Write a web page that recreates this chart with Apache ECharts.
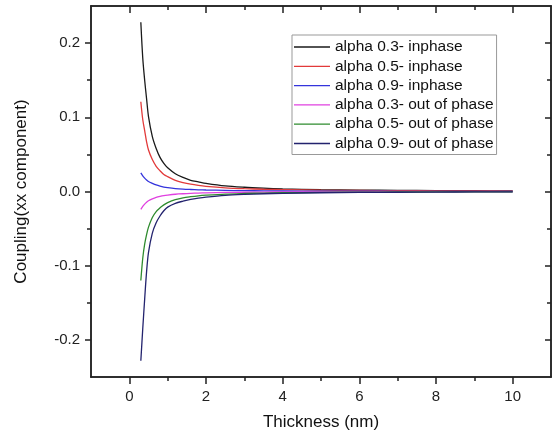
<!DOCTYPE html>
<html>
<head>
<meta charset="utf-8">
<script src="https://cdn.jsdelivr.net/npm/echarts@6/dist/echarts.min.js"></script>
<style>
  html, body { margin: 0; padding: 0; background: #fff; }
  #chart { width: 554px; height: 439px; }
</style>
</head>
<body>
<div id="chart"></div>
<script>
// thickness (nm) sample points
const thickness = [0.3, 0.35, 0.4, 0.45, 0.5, 0.6, 0.7, 0.8, 0.9, 1.0, 1.2, 1.4, 1.6, 1.8, 2.0, 2.5, 3, 3.5, 4, 5, 6, 7, 8, 9, 10];

// coupling, xx component
const a03In = [0.228, 0.180, 0.150, 0.125, 0.101, 0.074, 0.058, 0.046, 0.038, 0.032, 0.024, 0.019, 0.015, 0.013, 0.011, 0.0075, 0.0057, 0.0045, 0.0036, 0.0025, 0.0019, 0.0015, 0.0012, 0.0010, 0.0008];
const a05In = [0.121, 0.097, 0.082, 0.067, 0.056, 0.043, 0.034, 0.028, 0.023, 0.020, 0.015, 0.012, 0.0098, 0.0082, 0.0070, 0.0050, 0.0038, 0.0030, 0.0025, 0.0018, 0.0014, 0.0011, 0.0009, 0.0007, 0.0006];
const a09In = [0.025, 0.021, 0.018, 0.0155, 0.0135, 0.011, 0.0088, 0.0072, 0.006, 0.0052, 0.004, 0.0032, 0.0027, 0.0023, 0.002, 0.0015, 0.0011, 0.0009, 0.0007, 0.0005, 0.0004, 0.0003, 0.00025, 0.0002, 0.00015];
const a03Out = [-0.024, -0.020, -0.017, -0.0145, -0.0125, -0.0100, -0.0080, -0.0066, -0.0055, -0.0048, -0.0037, -0.0030, -0.0025, -0.0021, -0.0018, -0.0013, -0.0010, -0.0008, -0.0006, -0.0005, -0.0004, -0.0003, -0.00025, -0.0002, -0.00015];
const a05Out = [-0.120, -0.090, -0.071, -0.058, -0.048, -0.035, -0.027, -0.022, -0.018, -0.015, -0.011, -0.0085, -0.007, -0.0058, -0.005, -0.0035, -0.0027, -0.0021, -0.0017, -0.0012, -0.0009, -0.0007, -0.0006, -0.0005, -0.0004];
const a09Out = [-0.228, -0.185, -0.145, -0.108, -0.082, -0.056, -0.042, -0.033, -0.026, -0.021, -0.016, -0.013, -0.0105, -0.0088, -0.0075, -0.0052, -0.0039, -0.003, -0.0024, -0.0017, -0.0013, -0.001, -0.0008, -0.0006, -0.0005];

const seriesNames = ['alpha 0.3- inphase', 'alpha 0.5- inphase', 'alpha 0.9- inphase',
  'alpha 0.3- out of phase', 'alpha 0.5- out of phase', 'alpha 0.9- out of phase'];
const seriesValues = [a03In, a05In, a09In, a03Out, a05Out, a09Out];
const colors = ['#1a1a1a', '#e23a3a', '#3434dc', '#e040e0', '#2e8b2e', '#23236e'];

const xMajor = [0, 2, 4, 6, 8, 10];
const xMinor = [1, 3, 5, 7, 9];
const yMajor = [-0.2, -0.1, 0, 0.1, 0.2];
const yMinor = [-0.15, -0.05, 0.05, 0.15];

const font = 'Liberation Sans, Arial, sans-serif';
const axisColor = '#222';

function xAxisOf(pos, ticks, len, inside, labels) {
  return {
    type: 'value', position: pos, min: -1, max: 11,
    axisLine: {show: true, onZero: false, lineStyle: {color: axisColor, width: 1.5}},
    axisTick: {show: true, inside: inside, length: len, customValues: ticks, lineStyle: {color: axisColor, width: 1.5}},
    axisLabel: labels ? {
      show: true, customValues: ticks, margin: 12, color: '#222', fontSize: 15, fontFamily: font
    } : {show: false},
    splitLine: {show: false}
  };
}

function yAxisOf(pos, ticks, len, inside, labels) {
  return {
    type: 'value', position: pos, min: -0.25, max: 0.25,
    axisLine: {show: true, onZero: false, lineStyle: {color: axisColor, width: 1.5}},
    axisTick: {show: true, inside: inside, length: len, customValues: ticks, lineStyle: {color: axisColor, width: 1.5}},
    axisLabel: labels ? {
      show: true, customValues: ticks, margin: 11, color: '#222', fontSize: 15, fontFamily: font,
      formatter: (v) => v.toFixed(1)
    } : {show: false},
    splitLine: {show: false}
  };
}

const chart = echarts.init(document.getElementById('chart'), null, {renderer: 'canvas'});

const xMain = xAxisOf('bottom', xMajor, 7, false, true);
xMain.name = 'Thickness (nm)';
xMain.nameLocation = 'middle';
xMain.nameGap = 37;
xMain.nameTextStyle = {fontSize: 17, color: '#111', fontFamily: font};

const yMain = yAxisOf('left', yMajor, 6, false, true);
yMain.name = 'Coupling(xx component)';
yMain.nameLocation = 'middle';
yMain.nameGap = 61;
yMain.nameTextStyle = {fontSize: 17, color: '#111', fontFamily: font};

const option = {
  backgroundColor: '#fff',
  animation: false,
  color: colors,
  grid: {left: 91, right: 3, top: 6, bottom: 62, containLabel: false},
  legend: {
    orient: 'vertical',
    left: 292, top: 35,
    padding: [4, 3, 3, 2],
    borderColor: '#999', borderWidth: 1,
    icon: 'rect',
    itemWidth: 36, itemHeight: 1.3, itemGap: 3.3,
    textStyle: {fontSize: 15.5, color: '#111', fontFamily: font},
    data: seriesNames
  },
  xAxis: [
    xMain,
    xAxisOf('bottom', xMinor, 4, false, false),
    xAxisOf('top', xMajor, 7, true, false),
    xAxisOf('top', xMinor, 4, true, false)
  ],
  yAxis: [
    yMain,
    yAxisOf('left', yMinor, 4, false, false),
    yAxisOf('right', yMajor, 6, true, false),
    yAxisOf('right', yMinor, 4, true, false)
  ],
  series: seriesNames.map((name, i) => ({
    name: name,
    type: 'line',
    xAxisIndex: 0,
    yAxisIndex: 0,
    symbol: 'none',
    smooth: 0.3,
    lineStyle: {width: 1.3, color: colors[i]},
    itemStyle: {color: colors[i]},
    data: thickness.map((t, j) => [t, seriesValues[i][j]])
  }))
};

chart.setOption(option);
</script>
</body>
</html>
